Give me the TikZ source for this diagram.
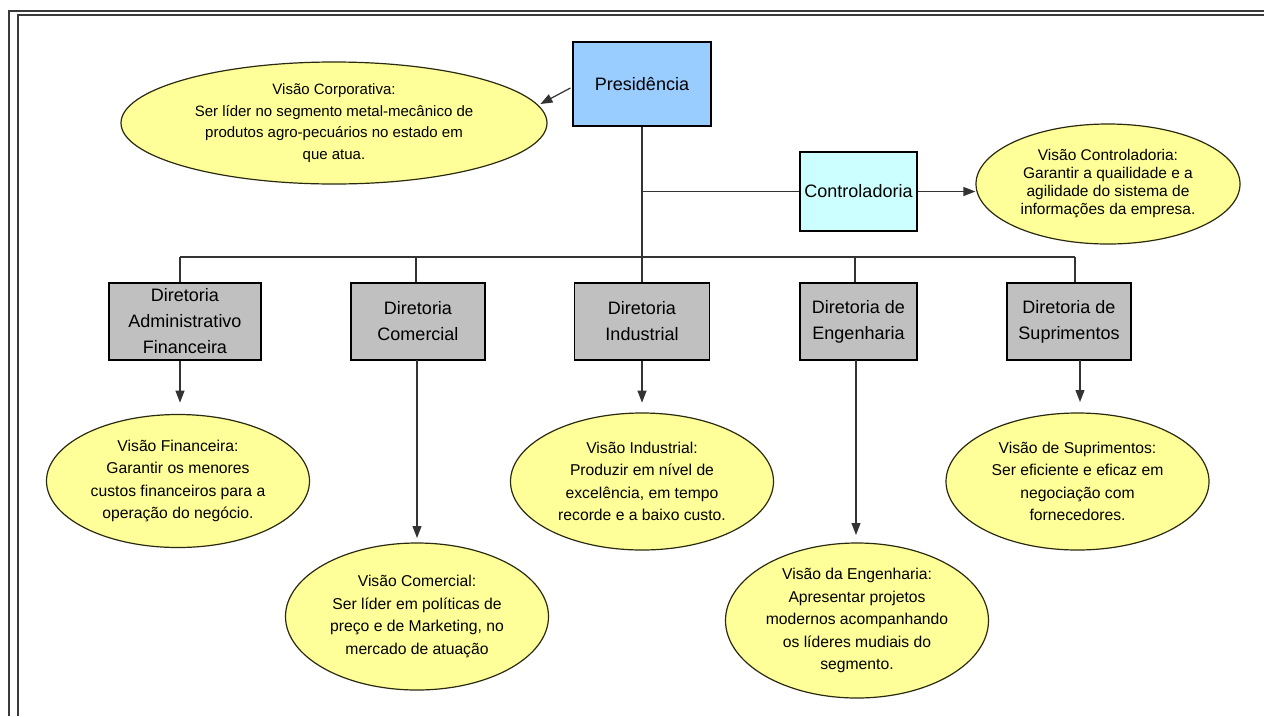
\documentclass[tikz,border=0pt]{standalone}
\usepackage{fontspec}
\setmainfont{Liberation Sans}
\usetikzlibrary{arrows.meta,shapes.geometric,calc}
\definecolor{vyellow}{HTML}{FFFF99}
\definecolor{vgray}{HTML}{C0C0C0}
\definecolor{vblue}{HTML}{99CCFF}
\definecolor{vcyan}{HTML}{CCFFFF}
\definecolor{framec}{HTML}{3A3A3A}
\definecolor{lineg}{HTML}{333333}
\definecolor{ellc}{HTML}{2A2A10}
\begin{document}
\begin{tikzpicture}[x=1pt,y=-1pt,
  box/.style={draw=black,line width=1.2pt,inner sep=0pt,align=center,font=\fontsize{18}{26}\selectfont},
  vision/.style={ellipse,draw=ellc,line width=1.2pt,fill=vyellow,inner sep=0pt,align=center,font=\fontsize{15.7}{22.5}\selectfont},
  conn/.style={draw=lineg,line width=1.2pt},
  arr/.style={conn,-{Triangle[width=9pt,length=12pt]}},
  framel/.style={draw=framec,line width=2.2pt}
]
\useasboundingbox (0,0) rectangle (1264,716);
\fill[white] (0,0) rectangle (1264,716);
% frame
\draw[framel] (9,716) -- (9,11) -- (1264,11);
\draw[framel,line width=2pt] (17.7,716) -- (17.7,15.3) -- (1264,15.3);

% top level
\node[box,fill=vblue,minimum width=138pt,minimum height=84pt] (pres) at (642,84) {Presidência};
\node[vision,minimum width=426pt,minimum height=122pt,font=\fontsize{15}{21.7}\selectfont] (vcorp) at (334,123)
  {Visão Corporativa:\\Ser líder no segmento metal-mecânico de\\produtos agro-pecuários no estado em\\que atua.};
\node[box,fill=vcyan,minimum width=117pt,minimum height=79pt] (ctrl) at (858.5,191.5) {Controladoria};
\node[vision,minimum width=264pt,minimum height=120pt,font=\fontsize{15.5}{18}\selectfont] (vctrl) at (1108,184)
  {Visão Controladoria:\\Garantir a quailidade e a\\agilidade do sistema de\\informações da empresa.};

% directors
\node[box,fill=vgray,minimum width=152pt,minimum height=77pt] (d1) at (185,321.5) {Diretoria\\Administrativo\\Financeira};
\node[box,fill=vgray,minimum width=134pt,minimum height=77pt] (d2) at (418,321.5) {Diretoria\\Comercial};
\node[box,fill=vgray,minimum width=135pt,minimum height=77pt] (d3) at (642,321.5) {Diretoria\\Industrial};
\node[box,fill=vgray,minimum width=117pt,minimum height=77pt] (d4) at (858.5,321.5) {Diretoria de\\Engenharia};
\node[box,fill=vgray,minimum width=124pt,minimum height=77pt] (d5) at (1069,321.5) {Diretoria de\\Suprimentos};

% visions
\node[vision,minimum width=263pt,minimum height=133pt] (v1) at (178,481)
  {Visão Financeira:\\Garantir os menores\\custos financeiros para a\\operação do negócio.};
\node[vision,minimum width=263pt,minimum height=147pt] (v2) at (417,616.5)
  {Visão Comercial:\\Ser líder em políticas de\\preço e de Marketing, no\\mercado de atuação};
\node[vision,minimum width=263pt,minimum height=137pt] (v3) at (642,481.5)
  {Visão Industrial:\\Produzir em nível de\\excelência, em tempo\\recorde e a baixo custo.};
\node[vision,minimum width=263pt,minimum height=155pt] (v4) at (857,620.5)
  {Visão da Engenharia:\\Apresentar projetos\\modernos acompanhando\\os líderes mudiais do\\segmento.};
\node[vision,minimum width=263pt,minimum height=137pt] (v5) at (1077.5,481.5)
  {Visão de Suprimentos:\\Ser eficiente e eficaz em\\negociação com\\fornecedores.};

% bus
\coordinate (b1) at (180,257);
\coordinate (b2) at (416,257);
\coordinate (b3) at (642,257);
\coordinate (b4) at (855,257);
\coordinate (b5) at (1075,257);
\coordinate (a2) at (417,360);
\coordinate (a4) at (856,360);
\coordinate (a5) at (1080,360);

\draw[conn] (pres.south) -- (b3);
\draw[conn] (b1) -- (b5);
\draw[conn] (b1) -- (b1 |- d1.north);
\draw[conn] (b2) -- (b2 |- d2.north);
\draw[conn] (b3) -- (b3 |- d3.north);
\draw[conn] (b4) -- (b4 |- d4.north);
\draw[conn] (b5) -- (b5 |- d5.north);
\draw[conn] (pres.south |- ctrl.west) -- (ctrl.west);

% arrows
\draw[arr] ($(pres.west)+(-2,4)$) -- ++(-30,16);
\draw[arr] (ctrl.east) -- (ctrl.east -| vctrl.west);
\draw[arr] (b1 |- d1.south) -- ++(0,42);
\draw[arr] (a2) -- ++(0,178);
\draw[arr] (d3.south) -- ++(0,42);
\draw[arr] (a4) -- ++(0,175);
\draw[arr] (a5) -- ++(0,42);
\end{tikzpicture}
\end{document}
